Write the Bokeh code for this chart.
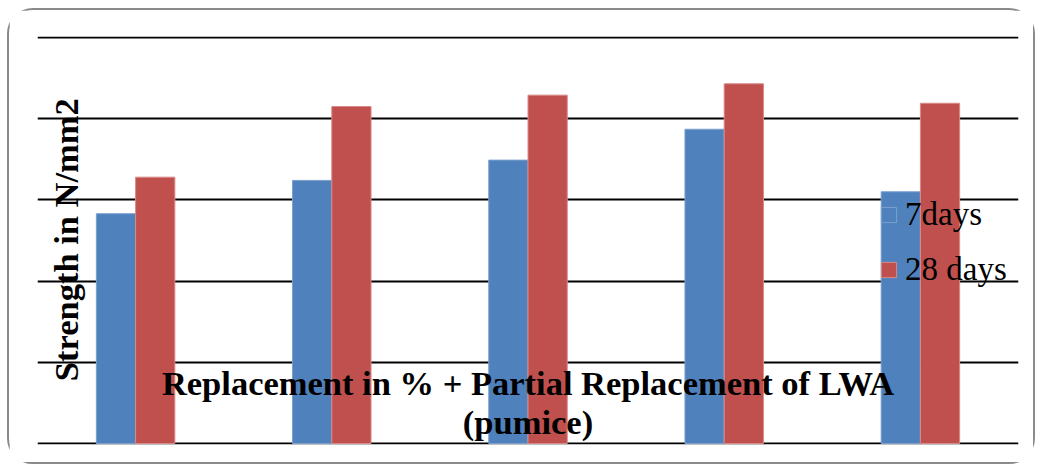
from bokeh.plotting import figure
from bokeh.models import (ColumnDataSource, FactorRange, Range1d, FixedTicker,
                          Label, Legend, LegendItem, Grid)
from bokeh.transform import dodge
from bokeh.embed import file_html
from bokeh.resources import INLINE
import math

# ---- data ----
categories = ["0%", "5%", "10%", "15%", "20%"]
days7 = [28.3, 32.4, 34.9, 38.7, 31.0]
days28 = [32.8, 41.5, 42.9, 44.3, 41.9]
y_ticks = [0, 10, 20, 30, 40, 50]

BLUE = "#4F81BD"
RED = "#C0504D"
FONT = "Liberation Serif"

src = ColumnDataSource(dict(cat=categories, d7=days7, d28=days28))

p = figure(x_range=FactorRange(*categories), y_range=Range1d(-0.123, 50.123),
           width=1028, height=456, output_backend="svg", toolbar_location=None,
           x_axis_location=None, y_axis_location=None,
           min_border_left=28, min_border_right=19, min_border_top=26, min_border_bottom=22)
p.outline_line_color = None
p.xgrid.visible = False
p.ygrid.visible = False
p.add_layout(Grid(dimension=1, ticker=FixedTicker(ticks=y_ticks),
                  grid_line_color="black", grid_line_width=2))
p.styles = {"border": "2px solid #8a8a8a", "border-radius": "26px",
            "margin-left": "7px", "margin-top": "8px"}

r1 = p.vbar(x=dodge("cat", -0.1, range=p.x_range), top="d7", width=0.2, source=src,
            fill_color=BLUE, line_color="#7aa0d0", line_width=1)
r2 = p.vbar(x=dodge("cat", 0.1, range=p.x_range), top="d28", width=0.2, source=src,
            fill_color=RED, line_color="#d88a88", line_width=1)

legend = Legend(items=[LegendItem(label="7days", renderers=[r1]),
                       LegendItem(label="28 days", renderers=[r2])],
                location=(842, 156), label_text_font=FONT, label_text_font_size="33px",
                label_text_color="black",
                glyph_width=19, glyph_height=19, label_standoff=7, spacing=18,
                padding=0, margin=0, background_fill_alpha=0, border_line_alpha=0)
p.add_layout(legend)

p.add_layout(Label(x=0.143, y=25.1, text="Strength in N/mm2", angle=math.pi / 2,
                   text_align="center", text_baseline="middle", text_font=FONT,
                   text_font_style="bold", text_font_size="34.5px", text_color="black"))
p.add_layout(Label(x=2.5, y=7.51, text="Replacement in % + Partial Replacement of LWA",
                   text_align="center", text_baseline="alphabetic", text_font=FONT,
                   text_font_style="bold", text_font_size="34.5px", text_color="black"))
p.add_layout(Label(x=2.5, y=2.59, text="(pumice)",
                   text_align="center", text_baseline="alphabetic", text_font=FONT,
                   text_font_style="bold", text_font_size="34.5px", text_color="black"))

open("out.html", "w").write(file_html(p, INLINE))
